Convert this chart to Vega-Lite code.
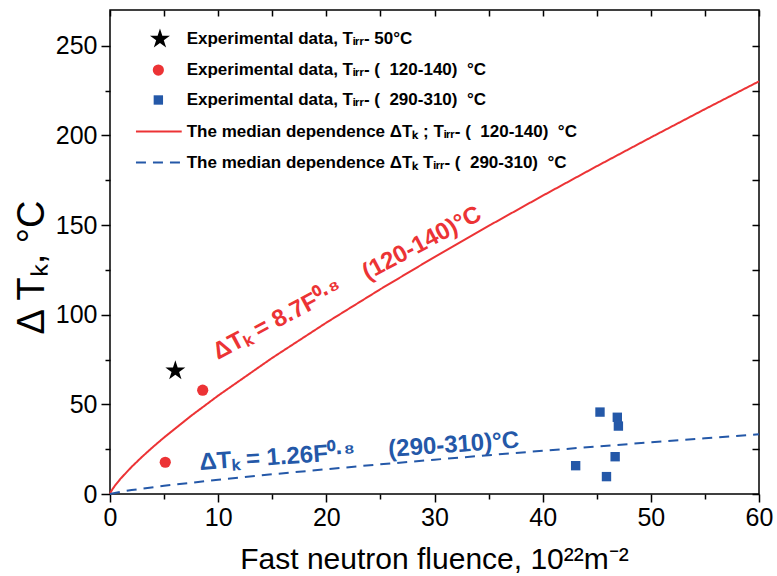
{
  "$schema": "https://vega.github.io/schema/vega-lite/v6.json",
  "width": 649,
  "height": 484,
  "autosize": {"type": "none"},
  "padding": {"left": 110, "top": 10, "right": 18, "bottom": 82},
  "background": "white",
  "config": {"view": {"stroke": "black", "strokeWidth": 1.5}, "font": "Liberation Sans"},
  "datasets": {
    "curves": [
      {"F": 0, "dT": 0, "series": "fit 120-140"},
      {"F": 0.1, "dT": 1.38, "series": "fit 120-140"},
      {"F": 0.25, "dT": 2.87, "series": "fit 120-140"},
      {"F": 0.5, "dT": 5.0, "series": "fit 120-140"},
      {"F": 1, "dT": 8.7, "series": "fit 120-140"},
      {"F": 2, "dT": 15.15, "series": "fit 120-140"},
      {"F": 3, "dT": 20.95, "series": "fit 120-140"},
      {"F": 4, "dT": 26.37, "series": "fit 120-140"},
      {"F": 5, "dT": 31.53, "series": "fit 120-140"},
      {"F": 7.5, "dT": 43.61, "series": "fit 120-140"},
      {"F": 10, "dT": 54.89, "series": "fit 120-140"},
      {"F": 15, "dT": 75.93, "series": "fit 120-140"},
      {"F": 20, "dT": 95.58, "series": "fit 120-140"},
      {"F": 25, "dT": 114.26, "series": "fit 120-140"},
      {"F": 30, "dT": 132.2, "series": "fit 120-140"},
      {"F": 35, "dT": 149.55, "series": "fit 120-140"},
      {"F": 40, "dT": 166.4, "series": "fit 120-140"},
      {"F": 45, "dT": 182.85, "series": "fit 120-140"},
      {"F": 50, "dT": 198.9, "series": "fit 120-140"},
      {"F": 55, "dT": 214.7, "series": "fit 120-140"},
      {"F": 60, "dT": 230.2, "series": "fit 120-140"},
      {"F": 0, "dT": 0, "series": "fit 290-310"},
      {"F": 1, "dT": 1.26, "series": "fit 290-310"},
      {"F": 2, "dT": 2.19, "series": "fit 290-310"},
      {"F": 5, "dT": 4.57, "series": "fit 290-310"},
      {"F": 10, "dT": 7.95, "series": "fit 290-310"},
      {"F": 15, "dT": 11.0, "series": "fit 290-310"},
      {"F": 20, "dT": 13.84, "series": "fit 290-310"},
      {"F": 25, "dT": 16.55, "series": "fit 290-310"},
      {"F": 30, "dT": 19.15, "series": "fit 290-310"},
      {"F": 35, "dT": 21.66, "series": "fit 290-310"},
      {"F": 40, "dT": 24.1, "series": "fit 290-310"},
      {"F": 45, "dT": 26.48, "series": "fit 290-310"},
      {"F": 50, "dT": 28.81, "series": "fit 290-310"},
      {"F": 55, "dT": 31.1, "series": "fit 290-310"},
      {"F": 60, "dT": 33.34, "series": "fit 290-310"}
    ],
    "points": [
      {"F": 6.04, "dT": 68.8, "series": "50"},
      {"F": 8.57, "dT": 57.9, "series": "120-140"},
      {"F": 5.11, "dT": 17.7, "series": "120-140"},
      {"F": 45.3, "dT": 45.7, "series": "290-310"},
      {"F": 46.9, "dT": 42.8, "series": "290-310"},
      {"F": 47.0, "dT": 37.9, "series": "290-310"},
      {"F": 46.7, "dT": 20.8, "series": "290-310"},
      {"F": 43.05, "dT": 15.8, "series": "290-310"},
      {"F": 45.9, "dT": 9.7, "series": "290-310"}
    ],
    "legendSymbols": [
      {"F": 4.62, "dT": 253.8, "series": "50"},
      {"F": 4.47, "dT": 236.5, "series": "120-140"},
      {"F": 4.47, "dT": 219.8, "series": "290-310"}
    ],
    "legendLines": [
      {"F": 2.4, "dT": 202.2, "series": "fit 120-140"},
      {"F": 6.63, "dT": 202.2, "series": "fit 120-140"},
      {"F": 2.4, "dT": 184.9, "series": "fit 290-310"},
      {"F": 6.63, "dT": 184.9, "series": "fit 290-310"}
    ],
    "legendText": [
      {"F": 7.09, "dT": 253.8, "label": "Experimental data, Tᵢᵣᵣ- 50°C"},
      {"F": 7.09, "dT": 236.5, "label": "Experimental data, Tᵢᵣᵣ- (\u00a0\u00a0120-140)\u00a0\u00a0°C"},
      {"F": 7.09, "dT": 219.8, "label": "Experimental data, Tᵢᵣᵣ- (\u00a0\u00a0290-310)\u00a0\u00a0°C"},
      {"F": 7.09, "dT": 202.2, "label": "The median dependence ΔTₖ ; Tᵢᵣᵣ- (\u00a0\u00a0120-140)\u00a0\u00a0°C"},
      {"F": 7.09, "dT": 184.9, "label": "The median dependence ΔTₖ Tᵢᵣᵣ- (\u00a0\u00a0290-310)\u00a0\u00a0°C"}
    ],
    "noteRed": [
      {"F": 9.98, "dT": 74.8, "label": "ΔTₖ = 8.7F⁰·⁸\u00a0\u00a0\u00a0\u00a0(120-140)°C"}
    ],
    "noteBlue": [
      {"F": 8.32, "dT": 13.4, "label": "ΔTₖ = 1.26F⁰·⁸\u00a0\u00a0\u00a0\u00a0\u00a0(290-310)°C"}
    ]
  },
  "layer": [
    {
      "data": {"name": "curves"},
      "mark": {"type": "line", "strokeWidth": 2},
      "encoding": {
        "x": {"field": "F", "type": "quantitative", "scale": {"domain": [0, 60], "nice": false, "zero": false},
          "axis": {"orient": "bottom", "values": [0,5,10,15,20,25,30,35,40,45,50,55,60],
            "labelExpr": "datum.value % 10 === 0 ? datum.label : ''",
            "tickSize": {"condition": {"test": "datum.value % 10 === 0", "value": 8}, "value": 5},
            "tickWidth": 1.5, "tickColor": "black", "domain": false, "grid": false,
            "labelFont": "Liberation Sans", "labelFontSize": 25, "labelColor": "black", "labelPadding": 3,
            "labelOverlap": false, "labelFlush": false, "labelBound": false,
            "title": "Fast neutron fluence, 10²²m⁻²", "titleFont": "Liberation Sans", "titleFontSize": 30,
            "titleFontWeight": "normal", "titleColor": "black", "titleX": 324, "titleY": 74,
            "titleBaseline": "alphabetic", "titleAlign": "center"}},
        "y": {"field": "dT", "type": "quantitative", "scale": {"domain": [0, 270], "nice": false},
          "axis": {"orient": "left", "values": [0,25,50,75,100,125,150,175,200,225,250],
            "labelExpr": "datum.value % 50 === 0 ? datum.label : ''",
            "tickSize": {"condition": {"test": "datum.value % 50 === 0", "value": 9}, "value": 5},
            "tickWidth": 1.5, "tickColor": "black", "domain": false, "grid": false,
            "labelFont": "Liberation Sans", "labelFontSize": 25, "labelColor": "black", "labelPadding": 4,
            "labelOverlap": false, "labelFlush": false, "labelBound": false,
            "title": "Δ Tₖ, °C", "titleFont": "Liberation Sans", "titleFontSize": 38,
            "titleFontWeight": "normal", "titleColor": "black", "titleX": -67, "titleY": 257,
            "titleBaseline": "alphabetic", "titleAlign": "center", "titleAngle": -90}},
        "color": {"field": "series", "type": "nominal", "legend": null,
          "scale": {"domain": ["50", "120-140", "290-310", "fit 120-140", "fit 290-310"], "range": ["black", "#ec3335", "#2458a8", "#ec3335", "#2458a8"]}},
        "strokeDash": {"field": "series", "type": "nominal", "legend": null,
          "scale": {"domain": ["fit 120-140", "fit 290-310"], "range": [[1, 0], [10, 7]]}}
      }
    },
    {
      "data": {"name": "legendLines"},
      "mark": {"type": "line", "strokeWidth": 2},
      "encoding": {
        "x": {"field": "F", "type": "quantitative",
          "axis": {"orient": "top", "values": [0,5,10,15,20,25,30,35,40,45,50,55,60], "labels": false,
            "tickSize": -6, "tickWidth": 1.5, "tickColor": "black", "domain": false, "grid": false, "title": null}},
        "y": {"field": "dT", "type": "quantitative",
          "axis": {"orient": "right", "values": [0,25,50,75,100,125,150,175,200,225,250], "labels": false,
            "tickSize": -7, "tickWidth": 1.5, "tickColor": "black", "domain": false, "grid": false, "title": null}},
        "color": {"field": "series", "type": "nominal", "legend": null},
        "strokeDash": {"field": "series", "type": "nominal", "legend": null}
      }
    },
    {
      "data": {"name": "points"},
      "mark": {"type": "point", "filled": true, "opacity": 1, "strokeWidth": 0},
      "encoding": {
        "x": {"field": "F", "type": "quantitative", "axis": null},
        "y": {"field": "dT", "type": "quantitative", "axis": null},
        "color": {"field": "series", "type": "nominal", "legend": null},
        "shape": {"field": "series", "type": "nominal", "legend": null,
          "scale": {"domain": ["50", "120-140", "290-310"], "range": ["M0,-1L0.2245,-0.309L0.951,-0.309L0.3633,0.118L0.588,0.809L0,0.382L-0.588,0.809L-0.3633,0.118L-0.951,-0.309L-0.2245,-0.309Z", "circle", "square"]}},
        "size": {"field": "series", "type": "nominal", "legend": null,
          "scale": {"type": "ordinal", "domain": ["50", "120-140", "290-310"], "range": [440, 125, 88]}}
      }
    },
    {
      "data": {"name": "legendSymbols"},
      "mark": {"type": "point", "filled": true, "opacity": 1, "strokeWidth": 0},
      "encoding": {
        "x": {"field": "F", "type": "quantitative", "axis": null},
        "y": {"field": "dT", "type": "quantitative", "axis": null},
        "color": {"field": "series", "type": "nominal", "legend": null},
        "shape": {"field": "series", "type": "nominal", "legend": null,
          "scale": {"domain": ["50", "120-140", "290-310"], "range": ["M0,-1L0.2245,-0.309L0.951,-0.309L0.3633,0.118L0.588,0.809L0,0.382L-0.588,0.809L-0.3633,0.118L-0.951,-0.309L-0.2245,-0.309Z", "circle", "square"]}},
        "size": {"field": "series", "type": "nominal", "legend": null,
          "scale": {"type": "ordinal", "domain": ["50", "120-140", "290-310"], "range": [440, 125, 88]}}
      }
    },
    {
      "data": {"name": "legendText"},
      "mark": {"type": "text", "align": "left", "baseline": "middle", "font": "Liberation Sans", "fontWeight": "bold", "fontSize": 17, "color": "black"},
      "encoding": {
        "x": {"field": "F", "type": "quantitative", "axis": null},
        "y": {"field": "dT", "type": "quantitative", "axis": null},
        "text": {"field": "label"}
      }
    },
    {
      "data": {"name": "noteRed"},
      "mark": {"type": "text", "align": "left", "baseline": "alphabetic", "font": "Liberation Sans", "fontWeight": "bold", "fontSize": 24, "color": "#ec3335", "angle": -28},
      "encoding": {
        "x": {"field": "F", "type": "quantitative", "axis": null},
        "y": {"field": "dT", "type": "quantitative", "axis": null},
        "text": {"field": "label"}
      }
    },
    {
      "data": {"name": "noteBlue"},
      "mark": {"type": "text", "align": "left", "baseline": "alphabetic", "font": "Liberation Sans", "fontWeight": "bold", "fontSize": 24, "color": "#2458a8", "angle": -4},
      "encoding": {
        "x": {"field": "F", "type": "quantitative", "axis": null},
        "y": {"field": "dT", "type": "quantitative", "axis": null},
        "text": {"field": "label"}
      }
    }
  ]
}
